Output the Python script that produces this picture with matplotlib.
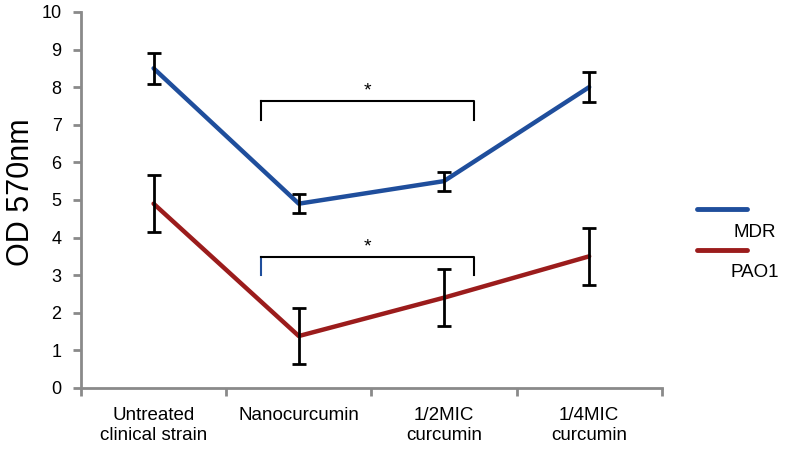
import matplotlib
matplotlib.use("Agg")
import matplotlib.pyplot as plt
from matplotlib.lines import Line2D

plt.rcParams['font.family'] = ['Liberation Sans', 'DejaVu Sans']

# data
categories = ['Untreated\nclinical strain', 'Nanocurcumin', '1/2MIC\ncurcumin', '1/4MIC\ncurcumin']
mdr = [8.5, 4.9, 5.5, 8.0]
mdr_err = [0.42, 0.25, 0.25, 0.4]
pao1 = [4.9, 1.38, 2.4, 3.5]
pao1_err = [0.75, 0.75, 0.75, 0.75]
series_names = ['MDR', 'PAO1']

blue = '#1f4e9c'
red = '#9b1c1c'
axis_gray = '#8a8a8a'

fig = plt.figure(figsize=(8.1, 4.58), dpi=100)
ax = fig.add_axes([0.1, 0.153, 0.717, 0.821])

x = list(range(len(categories)))
ax.plot(x, mdr, color=blue, lw=3.2, solid_capstyle='round', zorder=2)
ax.plot(x, pao1, color=red, lw=3.2, solid_capstyle='round', zorder=2)
ax.errorbar(x, mdr, yerr=mdr_err, fmt='none', ecolor='black', elinewidth=2, capsize=5, capthick=2, zorder=3)
ax.errorbar(x, pao1, yerr=pao1_err, fmt='none', ecolor='black', elinewidth=2, capsize=5, capthick=2, zorder=3)

# significance brackets
def bracket(x0, x1, ytop, ybot, left_color='black'):
    ax.plot([x0, x0], [ybot, ytop], color=left_color, lw=1.5)
    ax.plot([x0, x1, x1], [ytop, ytop, ybot], color='black', lw=1.5)
    ax.text((x0 + x1) / 2, ytop + 0.05, '*', ha='center', va='bottom', fontsize=14)

bracket(0.74, 2.21, 7.62, 7.13)
bracket(0.74, 2.21, 3.48, 3.0, left_color=blue)

ax.set_xlim(-0.5, 3.5)
ax.set_ylim(0, 10)
ax.set_yticks(range(0, 11))
ax.set_xticks(x)
ax.set_xticklabels(categories, fontsize=13.5)
ax.set_xticks([-0.5, 0.5, 1.5, 2.5, 3.5], minor=True)
ax.tick_params(axis='x', which='major', length=0, pad=14)
ax.tick_params(axis='x', which='minor', length=6, width=2, color=axis_gray, direction='out')
ax.tick_params(axis='y', length=6, width=2, color=axis_gray, labelsize=13, pad=8)
ax.set_ylabel('OD 570nm', fontsize=22)
ax.yaxis.set_label_coords(-0.078, 0.52)

for side in ['top', 'right']:
    ax.spines[side].set_visible(False)
for side in ['left', 'bottom']:
    ax.spines[side].set_color(axis_gray)
    ax.spines[side].set_linewidth(2)

# legend drawn by hand to match the offset layout
fig.add_artist(Line2D([0.861, 0.922], [0.544, 0.544], color=blue, lw=3.5, solid_capstyle='round'))
fig.add_artist(Line2D([0.861, 0.922], [0.454, 0.454], color=red, lw=3.5, solid_capstyle='round'))
fig.text(0.932, 0.493, series_names[0], ha='center', va='center', fontsize=13.5)
fig.text(0.932, 0.405, series_names[1], ha='center', va='center', fontsize=13.5)

fig.savefig('out.png', dpi=100)
